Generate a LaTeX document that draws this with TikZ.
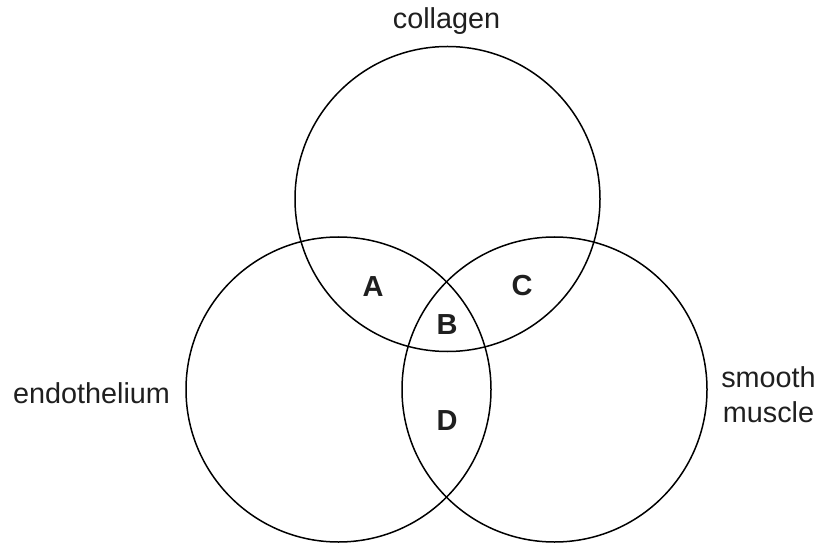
\documentclass[tikz,border=0pt]{standalone}
\usepackage{fontspec}
\setmainfont{Liberation Sans}

\begin{document}
\begin{tikzpicture}[x=1pt, y=-1pt,
    ring/.style={circle, draw, line width=1.5pt, minimum size=305pt, inner sep=0pt},
    tag/.style={inner sep=0pt, text=black!88, font=\fontsize{29}{35}\selectfont\bfseries},
    caption/.style={inner sep=0pt, text=black!88, font=\fontsize{28.8}{35}\selectfont, align=center}]

\useasboundingbox (0,0) rectangle (824,545);

% the three circles
\node[ring] (collagen) at (447.5,199) {};
\node[ring] (endo) at (338.5,389.5) {};
\node[ring] (muscle) at (554.5,389.5) {};

% names of the circles
\node[caption, anchor=base] (collagenname) at (446.5,29) {collagen};
\node[caption, anchor=base] (endoname) at (91.5,403) {endothelium};
\node[caption] (musclename) at (768.5,395) {smooth\\muscle};

% and the regions
\foreach \name/\x/\y in {A/373/287, B/447/325, C/522/286, D/447/421} {
    \node[tag] (reg\name) at (\x,\y) {\name};
}
\end{tikzpicture}
\end{document}
